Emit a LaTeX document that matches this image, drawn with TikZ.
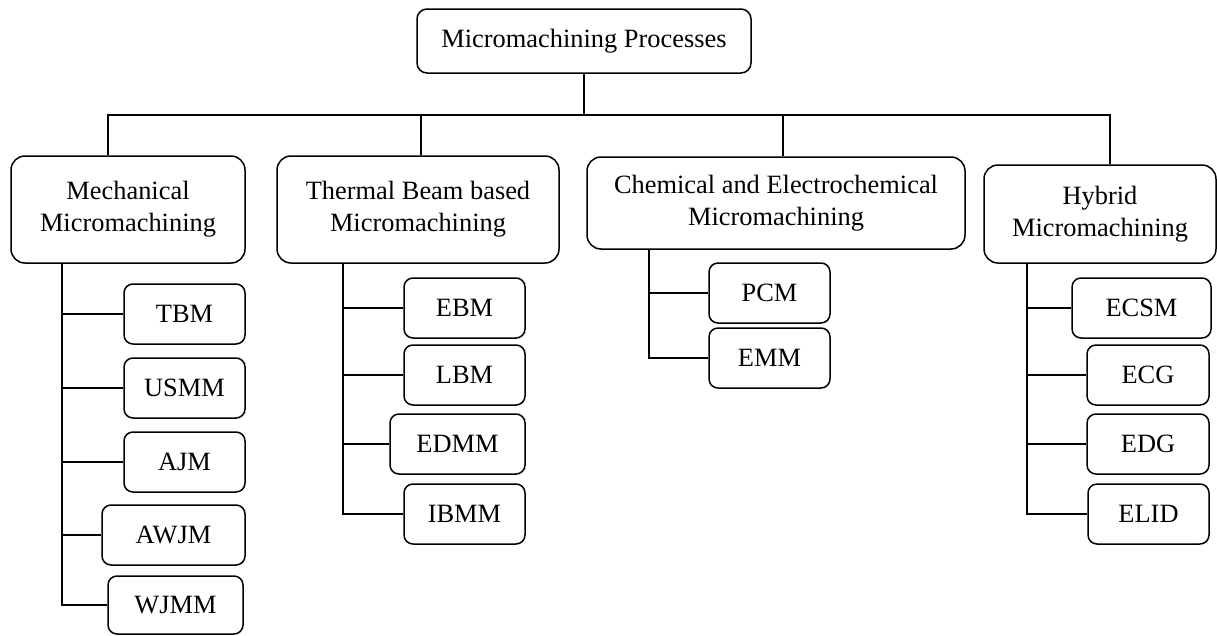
\documentclass[tikz,border=0pt]{standalone}
\usepackage{fontspec}
\setmainfont{Liberation Serif}
\usetikzlibrary{calc}
\tikzset{
  box/.style={draw, line width=1.5pt, inner sep=0pt, align=center,
    font=\fontsize{26.4}{32}\selectfont},
  top box/.style={box, rounded corners=10pt},
  group box/.style={box, rounded corners=14pt},
  leaf box/.style={box, rounded corners=9pt, minimum width=121pt, minimum height=60pt},
  link/.style={line width=1.5pt}
}

\begin{document}
\begin{tikzpicture}[x=1pt, y=-1pt]

\useasboundingbox (0,0) rectangle (1217,635);

% Root and the four families
\node[top box, minimum width=334pt, minimum height=64pt] (top) at (584,41) {Micromachining Processes};

\node[group box, minimum width=234pt, minimum height=107pt] (mech)  at (128,209.5) {Mechanical\\Micromachining};
\node[group box, minimum width=282pt, minimum height=107pt] (therm) at (418,209.5) {Thermal Beam based\\Micromachining};
\node[group box, minimum width=378pt, minimum height=92pt]  (chem)  at (776,203)   {Chemical and Electrochemical\\Micromachining};
\node[group box, minimum width=232pt, minimum height=98pt]  (hyb)   at (1100,214)  {Hybrid\\Micromachining};

% Mechanical processes
\node[leaf box]                      (tbm)  at (184.5,314) {TBM};
\node[leaf box]                      (usmm) at (184.5,388) {USMM};
\node[leaf box]                      (ajm)  at (184.5,462) {AJM};
\node[leaf box, minimum width=143pt] (awjm) at (173.5,535) {AWJM};
\node[leaf box, minimum width=135pt, minimum height=58pt] (wjmm) at (175.5,605) {WJMM};

% Thermal beam processes
\node[leaf box]                      (ebm)  at (464.5,308) {EBM};
\node[leaf box]                      (lbm)  at (464.5,375) {LBM};
\node[leaf box, minimum width=135pt] (edmm) at (457.5,444) {EDMM};
\node[leaf box]                      (ibmm) at (464.5,514) {IBMM};

% Chemical and electrochemical processes
\node[leaf box] (pcm) at (769.5,293) {PCM};
\node[leaf box] (emm) at (769.5,358) {EMM};

% Hybrid processes
\node[leaf box, minimum width=139pt] (ecsm) at (1141.5,308) {ECSM};
\node[leaf box, minimum width=122pt] (ecg)  at (1148,375) {ECG};
\node[leaf box, minimum width=122pt] (edg)  at (1148,444) {EDG};
\node[leaf box]                      (elid) at (1148.5,514) {ELID};

% Bus under the root
\coordinate (drop1) at (108,115);
\coordinate (drop2) at (421,115);
\coordinate (drop3) at (783,115);
\coordinate (drop4) at (1110,115);

\draw[link] (top.south) -- (top.south |- drop1);
\draw[link] (mech.north -| drop1) -- (drop1) -- (drop4) -- (hyb.north -| drop4);
\draw[link] (drop2) -- (therm.north -| drop2);
\draw[link] (drop3) -- (chem.north -| drop3);

% Spines down each family
\coordinate (mspine) at (62,0);
\coordinate (tspine) at (343,0);
\coordinate (cspine) at (649,0);
\coordinate (hspine) at (1027,0);

\draw[link] (mech.south -| mspine) |- (wjmm.west);
\draw[link] (tbm.west)  -- (tbm.west -| mspine);
\draw[link] (usmm.west) -- (usmm.west -| mspine);
\draw[link] (ajm.west)  -- (ajm.west -| mspine);
\draw[link] (awjm.west) -- (awjm.west -| mspine);

\draw[link] (therm.south -| tspine) |- (ibmm.west);
\draw[link] (ebm.west)  -- (ebm.west -| tspine);
\draw[link] (lbm.west)  -- (lbm.west -| tspine);
\draw[link] (edmm.west) -- (edmm.west -| tspine);

\draw[link] (chem.south -| cspine) |- (emm.west);
\draw[link] (pcm.west) -- (pcm.west -| cspine);

\draw[link] (hyb.south -| hspine) |- (elid.west);
\draw[link] (ecsm.west) -- (ecsm.west -| hspine);
\draw[link] (ecg.west)  -- (ecg.west -| hspine);
\draw[link] (edg.west)  -- (edg.west -| hspine);

\end{tikzpicture}
\end{document}
